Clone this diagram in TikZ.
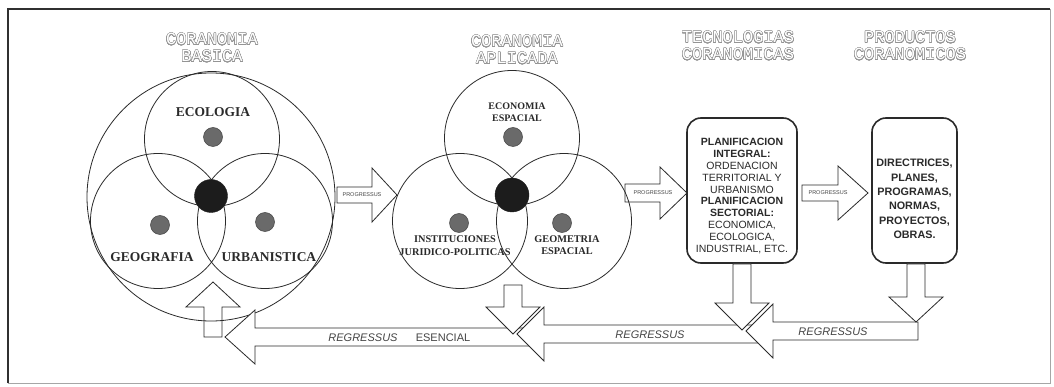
\documentclass[tikz,border=0pt]{standalone}
\usepackage{fontspec}
\setmainfont{Liberation Serif}
\setsansfont{Liberation Sans}
\setmonofont{Liberation Mono}
\usepackage{contour}
\contourlength{0.4pt}
\contournumber{24}

\definecolor{ink}{HTML}{2A2A2A}
\definecolor{frameink}{HTML}{303030}
\definecolor{titlegray}{HTML}{949494}
\definecolor{dotgray}{HTML}{6A6A6A}
\definecolor{coredark}{HTML}{1C1C1C}
\definecolor{txtgray}{HTML}{444444}

% horizontal block arrow: tail x, head-base x, tip x, centre y, shaft half-height, head half-height
\newcommand\blkH[7][]{%
  \draw[blk,#1] (#2,{#5-#6}) -- (#3,{#5-#6}) -- (#3,{#5-#7}) -- (#4,#5)
    -- (#3,{#5+#7}) -- (#3,{#5+#6}) -- (#2,{#5+#6}) -- cycle;}
% vertical block arrow: tail y, head-base y, tip y, centre x, shaft half-width, head half-width
\newcommand\blkV[7][]{%
  \draw[blk,#1] ({#5-#6},#2) -- ({#5-#6},#3) -- ({#5-#7},#3) -- (#5,#4)
    -- ({#5+#7},#3) -- ({#5+#6},#3) -- ({#5+#6},#2) -- cycle;}

\begin{document}
\begin{tikzpicture}[x=1pt,y=-1pt,
  ring/.style={circle,draw=ink,line width=0.8pt,inner sep=0pt},
  core/.style={circle,fill=coredark,draw=coredark,inner sep=0pt,minimum size=33pt},
  seed/.style={circle,fill=dotgray,draw=txtgray,line width=0.5pt,inner sep=0pt,minimum size=19pt},
  field/.style={font=\bfseries\fontsize{13.5}{15}\selectfont,text=ink,inner sep=0pt},
  subfield/.style={font=\bfseries\fontsize{10.3}{12.5}\selectfont,text=ink,inner sep=0pt,align=center},
  heading/.style={font=\ttfamily\fontsize{17}{17}\selectfont,text=white,inner sep=0pt,align=center},
  panel/.style={draw=ink,line width=1.6pt,rounded corners=14pt,inner sep=0pt},
  paneltext/.style={font=\sffamily\fontsize{10.5}{11.9}\selectfont,text=ink,align=center,inner sep=0pt},
  blk/.style={draw=ink,line width=0.8pt,line join=miter},
  blkfill/.style={fill=white},
  tiny/.style={font=\sffamily\fontsize{5.5}{6}\selectfont,text=txtgray,inner sep=0pt},
  regtxt/.style={font=\sffamily\fontsize{11}{12}\selectfont,text=txtgray,inner sep=0pt}]

\useasboundingbox (0,0) rectangle (1054,387);
\fill[white] (0,0) rectangle (1054,387);

% outer frame
\draw[frameink,line width=1.6pt] (8,383) -- (8,9) -- (1050,9);
\draw[gray!70,line width=1pt] (8,383) -- (1050,383) -- (1050,9);

% ---- Coranomia basica ----
\node[heading] (tbasica) at (212,48) {\contour{titlegray}{CORANOMIA}\\\contour{titlegray}{BASICA}};
\node[ring,minimum size=248pt] (basica) at (211,197) {};
\node[ring,minimum size=135pt] (ecol) at (212,139) {};
\node[ring,minimum size=135pt] (geog) at (158,221) {};
\node[ring,minimum size=135pt] (urban) at (265,221) {};
\node[core] (core1) at (211,196) {};
\node[seed] (decol) at (213,137) {};
\node[seed] (dgeog) at (160,225) {};
\node[seed] (durban) at (265,222) {};
\node[field] (lecol) at (213,112) {ECOLOGIA};
\node[field] (lgeog) at (152,257) {GEOGRAFIA};
\node[field] (lurban) at (269,257) {URBANISTICA};

% ---- Coranomia aplicada ----
\node[heading] (taplic) at (517,50) {\contour{titlegray}{CORANOMIA}\\\contour{titlegray}{APLICADA}};
\node[ring,minimum size=135pt] (econ) at (512,138) {};
\node[ring,minimum size=135pt] (inst) at (460,221) {};
\node[ring,minimum size=135pt] (geom) at (564,221) {};
\node[core,minimum size=34pt] (core2) at (512,195) {};
\node[seed] (decon) at (513,137) {};
\node[seed] (dinst) at (459,223) {};
\node[seed] (dgeom) at (562,223) {};
\node[subfield,font=\bfseries\fontsize{10}{12}\selectfont] (lecon) at (517,112) {ECONOMIA\\ESPACIAL};
\node[subfield] (linst) at (455,245.5) {INSTITUCIONES\\JURIDICO-POLITICAS};
\node[subfield] (lgeom) at (567,245) {GEOMETRIA\\ESPACIAL};

% ---- Tecnologias and productos ----
\node[heading] (ttec) at (738,46) {\contour{titlegray}{TECNOLOGIAS}\\\contour{titlegray}{CORANOMICAS}};
\node[heading] (tprod) at (910,46) {\contour{titlegray}{PRODUCTOS}\\\contour{titlegray}{CORANOMICOS}};
\node[panel,minimum width=110pt,minimum height=145pt] (tec) at (742,190.5) {};
\node[paneltext] (tectext) at (742,196) {\textbf{PLANIFICACION}\\\textbf{INTEGRAL:}\\ORDENACION\\TERRITORIAL Y\\URBANISMO\\\textbf{PLANIFICACION}\\\textbf{SECTORIAL:}\\ECONOMICA,\\ECOLOGICA,\\INDUSTRIAL, ETC.};
\node[panel,minimum width=85pt,minimum height=145pt] (prod) at (914.5,190.5) {};
\node[paneltext,font=\sffamily\bfseries\fontsize{10.8}{14.4}\selectfont] (prodtext) at (914.5,199) {DIRECTRICES,\\PLANES,\\PROGRAMAS,\\NORMAS,\\PROYECTOS,\\OBRAS.};

% ---- progressus arrows ----
\blkH{337}{372}{397}{195}{8}{27}
\blkH{625}{660}{687}{193}{9}{26}
\blkH{802}{838}{868}{193}{8}{27}
\node[tiny] (prog1) at (362,195) {PROGRESSUS};
\node[tiny] (prog2) at (653,193) {PROGRESSUS};
\node[tiny] (prog3) at (828,193) {PROGRESSUS};

% ---- regressus chain ----
\blkH[blkfill]{530}{255}{225}{337}{9}{27}
\blkV[blkfill]{285}{307}{334}{513}{9}{27}
\blkH[blkfill]{760}{544}{517}{334}{9}{27}
\blkV[blkfill]{264}{303}{330}{742}{9}{27}
\blkH[blkfill]{918}{773}{746}{331}{9}{27}
\blkV[blkfill]{264}{297}{322}{916}{9}{27}
\blkV{337}{307}{282}{213}{9}{27}

\node[regtxt] (regA) at (833,332) {\textit{REGRESSUS}};
\node[regtxt] (regB) at (650,335) {\textit{REGRESSUS}};
\node[regtxt] (regC) at (363,338) {\textit{REGRESSUS}};
\node[regtxt] (esen) at (443,338) {ESENCIAL};

\end{tikzpicture}
\end{document}
